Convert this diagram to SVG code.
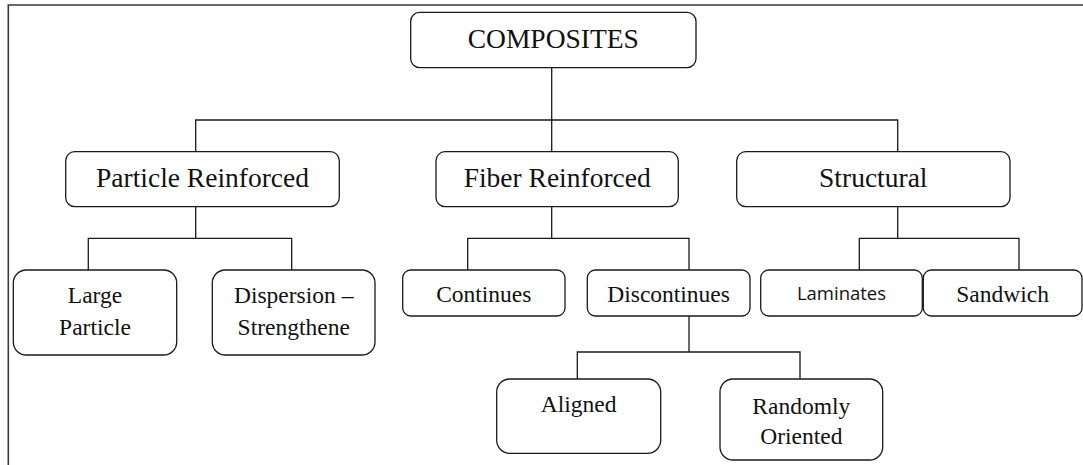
<svg xmlns="http://www.w3.org/2000/svg" width="1083" height="465" viewBox="0 0 1083 465">
<style>
.box{fill:#fff;stroke:#1a1a1a;stroke-width:1.3}
.ln{fill:none;stroke:#1a1a1a;stroke-width:1.3}
.frame{fill:none;stroke:#3a3a3a;stroke-width:1.6}
.t1{font-family:"Liberation Serif","Times New Roman",serif;font-size:27.5px;fill:#111;text-anchor:middle}
.t2{font-family:"Liberation Serif","Times New Roman",serif;font-size:23.5px;fill:#111;text-anchor:middle}
.t3{font-family:"Open Sans","Liberation Sans",sans-serif;font-size:18.5px;fill:#111;text-anchor:middle}
</style>
<rect width="1083" height="465" fill="#fff"/>
<path class="frame" d="M8.3,465 V5 H1083"/>
<g id="connectors">
<path class="ln" d="M551.7,67.7 V151.7"/>
<path class="ln" d="M195.7,151.7 V120 H897.7 V151.7"/>
<path class="ln" d="M195.7,206.7 V238.3 M88.3,270 V238.3 H291.7 V270"/>
<path class="ln" d="M551.7,206.7 V238.3 M467.7,270 V238.3 H689 V270"/>
<path class="ln" d="M897.7,206.7 V238.3 M859.3,270 V238.3 H1019 V270"/>
<path class="ln" d="M689,316 V352 M577.3,379 V352 H800 V379"/>
</g>
<g id="composites"><rect class="box" x="410.7" y="12.3" width="285.3" height="55.4" rx="9"/><text class="t1" x="553.3" y="47.7">COMPOSITES</text></g>
<g id="particle"><rect class="box" x="65.7" y="151.7" width="273.6" height="55" rx="9"/><text class="t1" x="202.5" y="187">Particle Reinforced</text></g>
<g id="fiber"><rect class="box" x="436" y="151.7" width="242.3" height="55" rx="9"/><text class="t1" x="557.2" y="187">Fiber Reinforced</text></g>
<g id="structural"><rect class="box" x="736.7" y="151.7" width="273.3" height="55" rx="9"/><text class="t1" x="873.3" y="187">Structural</text></g>
<g id="large"><rect class="box" x="13.3" y="270" width="163.4" height="85" rx="13"/><text class="t2" x="95" y="303.3">Large</text><text class="t2" x="95" y="335">Particle</text></g>
<g id="dispersion"><rect class="box" x="212.3" y="270" width="162.7" height="85" rx="13"/><text class="t2" x="293.7" y="303.3">Dispersion –</text><text class="t2" x="293.7" y="335">Strengthene</text></g>
<g id="continues"><rect class="box" x="402.7" y="270" width="162.3" height="46" rx="8"/><text class="t2" x="483.8" y="301.5">Continues</text></g>
<g id="discontinues"><rect class="box" x="587.3" y="270" width="162.7" height="46" rx="8"/><text class="t2" x="668.6" y="301.5">Discontinues</text></g>
<g id="laminates"><rect class="box" x="760.7" y="270" width="161.6" height="46" rx="8"/><text class="t3" x="841.5" y="300">Laminates</text></g>
<g id="sandwich"><rect class="box" x="923.3" y="270" width="158.7" height="46" rx="8"/><text class="t2" x="1002.6" y="301.5">Sandwich</text></g>
<g id="aligned"><rect class="box" x="496.7" y="379" width="164" height="74.3" rx="13"/><text class="t2" x="578.7" y="411.7">Aligned</text></g>
<g id="randomly"><rect class="box" x="720" y="379" width="162.7" height="81" rx="13"/><text class="t2" x="801.3" y="414">Randomly</text><text class="t2" x="801.3" y="444">Oriented</text></g>
</svg>
